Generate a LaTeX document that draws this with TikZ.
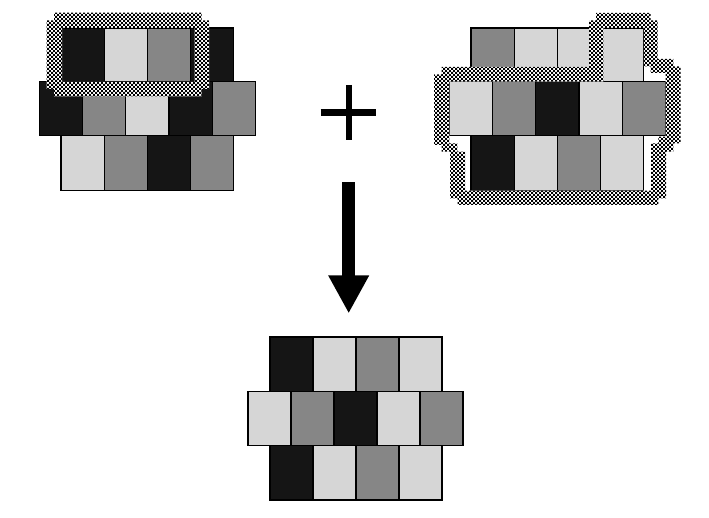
\documentclass[tikz,border=0pt]{standalone}
\usetikzlibrary{arrows.meta,patterns}
\definecolor{cellblack}{HTML}{151515}
\definecolor{cellgray}{HTML}{868686}
\definecolor{celllight}{HTML}{D6D6D6}
\pgfdeclarepatternformonly{checkerdots}{\pgfpointorigin}{\pgfqpoint{2pt}{2pt}}{\pgfqpoint{2pt}{2pt}}{%
  \pgfpathrectangle{\pgfpointorigin}{\pgfqpoint{1pt}{1pt}}%
  \pgfpathrectangle{\pgfqpoint{1pt}{1pt}}{\pgfqpoint{1pt}{1pt}}%
  \pgfusepath{fill}}
\begin{document}
\begin{tikzpicture}[x=0.5pt,y=-0.5pt,
  darkcell/.style={fill=cellblack, draw=black, line width=0.6pt},
  midcell/.style={fill=cellgray, draw=black, line width=0.6pt},
  lightcell/.style={fill=celllight, draw=black, line width=0.6pt},
  ring/.style={even odd rule, preaction={fill=white, even odd rule}, pattern=checkerdots, pattern color=black}]
\useasboundingbox (0,0) rectangle (709,518);
\draw[darkcell] (61,28) rectangle (104.2,81.3);
\draw[lightcell] (104.2,28) rectangle (147.4,81.3);
\draw[midcell] (147.4,28) rectangle (190.6,81.3);
\draw[darkcell] (190.6,28) rectangle (233.8,81.3);
\draw[darkcell] (39.3,81.3) rectangle (82.5,135.4);
\draw[midcell] (82.5,81.3) rectangle (125.7,135.4);
\draw[lightcell] (125.7,81.3) rectangle (168.9,135.4);
\draw[darkcell] (168.9,81.3) rectangle (212.1,135.4);
\draw[midcell] (212.1,81.3) rectangle (255.3,135.4);
\draw[lightcell] (61,135.4) rectangle (104.2,190.3);
\draw[midcell] (104.2,135.4) rectangle (147.4,190.3);
\draw[darkcell] (147.4,135.4) rectangle (190.6,190.3);
\draw[midcell] (190.6,135.4) rectangle (233.8,190.3);
\path[ring] (54,12.7) -- (201.7,12.7) -- (201.7,20.3) -- (209,20.3) -- (209,89) -- (201.7,89) -- (201.7,96.5) -- (54,96.5) -- (54,89) -- (46.7,89) -- (46.7,20.3) -- (54,20.3) -- cycle
  (62,28) rectangle (194.5,82);
\draw[midcell] (471,28) rectangle (514.2,81.3);
\draw[lightcell] (514.2,28) rectangle (557.4,81.3);
\draw[lightcell] (557.4,28) rectangle (600.6,81.3);
\draw[lightcell] (600.6,28) rectangle (643.8,81.3);
\draw[lightcell] (449.3,81.3) rectangle (492.5,135.4);
\draw[midcell] (492.5,81.3) rectangle (535.7,135.4);
\draw[darkcell] (535.7,81.3) rectangle (578.9,135.4);
\draw[lightcell] (578.9,81.3) rectangle (622.1,135.4);
\draw[midcell] (622.1,81.3) rectangle (665.3,135.4);
\draw[darkcell] (471,135.4) rectangle (514.2,190.3);
\draw[lightcell] (514.2,135.4) rectangle (557.4,190.3);
\draw[midcell] (557.4,135.4) rectangle (600.6,190.3);
\draw[lightcell] (600.6,135.4) rectangle (643.8,190.3);
\path[ring] (596,13) -- (650.7,13) -- (650.7,20.3) -- (657.7,20.3) -- (657.7,59) -- (673.3,59) -- (673.3,66.3) -- (680.7,66.3) -- (680.7,143.3) -- (673.3,143.3) -- (673.3,151.7) -- (666,151.7) -- (666,198.3) -- (658.3,198.3) -- (658.3,205) -- (457.7,205) -- (457.7,198.3) -- (450,198.3) -- (450,151.7) -- (441.7,151.7) -- (441.7,145) -- (434,145) -- (434,74.3) -- (441.7,74.3) -- (441.7,67) -- (589,67) -- (589,20.3) -- (596,20.3) -- cycle
  (603.3,28) -- (643.8,28) -- (643.8,66.3) -- (650.7,66.3) -- (650.7,73) -- (665.6,73) -- (665.6,136.7) -- (658.3,136.7) -- (658.3,143.3) -- (651,143.3) -- (651,190.6) -- (465,190.6) -- (465,151.7) -- (457.3,151.7) -- (457.3,143.3) -- (449.3,143.3) -- (449.3,81.6) -- (603.3,81.6) -- cycle;
\draw[line width=3.3pt] (320.7,112.7) -- (376,112.7);
\draw[line width=3pt] (348.7,85) -- (348.7,140);
\coordinate (arrowtop) at (348.7,182.3);
\coordinate (arrowtip) at (348.7,313.5);
\draw[line width=6.5pt, -{Triangle[length=19pt,width=19pt]}] (arrowtop) -- (arrowtip);
\draw[darkcell] (270,337) rectangle (313,391.3);
\draw[lightcell] (313,337) rectangle (356,391.3);
\draw[midcell] (356,337) rectangle (399,391.3);
\draw[lightcell] (399,337) rectangle (442,391.3);
\draw[lightcell] (248,391.3) rectangle (291,445.5);
\draw[midcell] (291,391.3) rectangle (334,445.5);
\draw[darkcell] (334,391.3) rectangle (377,445.5);
\draw[lightcell] (377,391.3) rectangle (420,445.5);
\draw[midcell] (420,391.3) rectangle (463,445.5);
\draw[darkcell] (270,445.5) rectangle (313,500);
\draw[lightcell] (313,445.5) rectangle (356,500);
\draw[midcell] (356,445.5) rectangle (399,500);
\draw[lightcell] (399,445.5) rectangle (442,500);
\end{tikzpicture}
\end{document}
